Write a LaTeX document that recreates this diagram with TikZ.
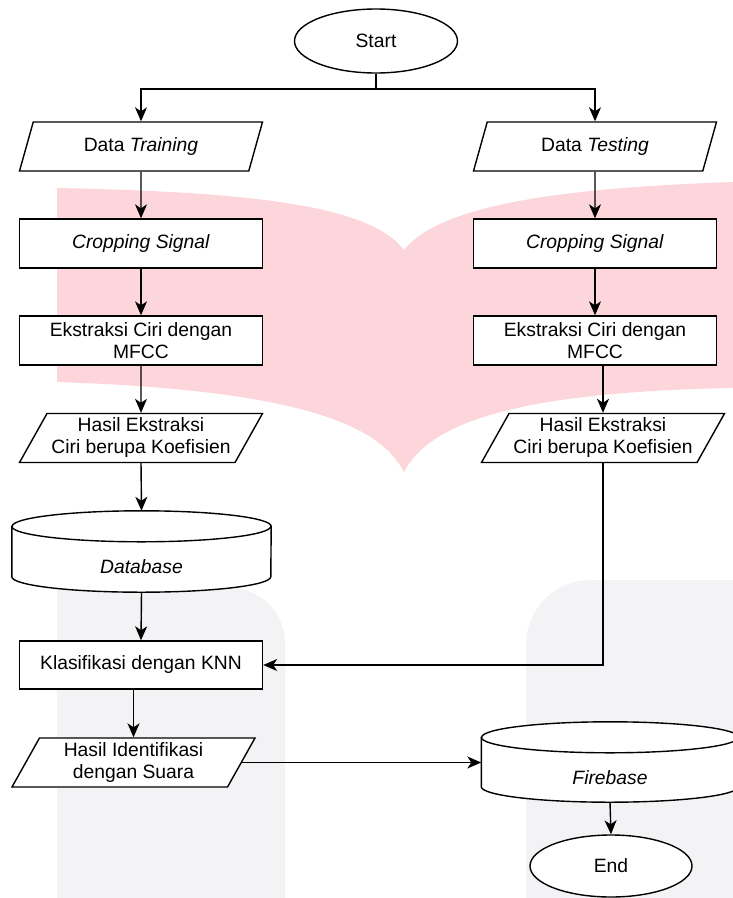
\documentclass[tikz,border=0pt]{standalone}
\usepackage{fontspec}
\setmainfont{Liberation Sans}
\usetikzlibrary{shapes.geometric,arrows.meta}

\definecolor{markpink}{RGB}{252,214,218}
\definecolor{markgrey}{RGB}{243,243,245}

\begin{document}
\begin{tikzpicture}[x=1pt, y=-1pt,
    flow/.style={draw, line width=1.4pt, fill=white, align=center,
      font=\fontsize{19.3pt}{22pt}\selectfont},
    proc/.style={flow, rectangle, minimum width=243pt, minimum height=49pt, inner sep=2pt},
    io/.style={flow, trapezium, trapezium left angle=58, trapezium right angle=122,
      trapezium stretches body, minimum width=243pt, minimum height=49pt, inner sep=2pt},
    term/.style={flow, ellipse, minimum width=163pt, minimum height=64pt, inner sep=0pt},
    store/.style={rectangle, minimum width=259pt, minimum height=81pt, inner sep=0pt},
    storetext/.style={font=\fontsize{19.3pt}{22pt}\selectfont\itshape},
    arr/.style={-{Stealth[length=14pt, width=12pt, inset=4pt]}, line width=1.4pt}]
  \useasboundingbox (0,0) rectangle (733,898);
  \fill[white] (0,0) rectangle (733,898);
  % Watermark
  \fill[markpink] (57,188) .. controls (250,192) and (370,205) .. (404,250)
    .. controls (440,205) and (560,188) .. (733,182) -- (733,388)
    .. controls (510,392) and (428,425) .. (404,472)
    .. controls (380,425) and (300,390) .. (57,382) -- cycle;
  \fill[markgrey] (57,898) -- (57,588) -- (230,588) arc[start angle=90, end angle=0, radius=55pt]
    -- (285,898) -- cycle;
  \fill[markgrey] (526,898) -- (526,645) arc[start angle=180, end angle=90, radius=65pt]
    -- (733,580) -- (733,898) -- cycle;
  % Start and inputs
  \node[term] (start) at (376,41) {Start};
  \node[io] (dtrain) at (141,146.5) {Data \textit{Training}};
  \node[io] (dtest) at (595,146.5) {Data \textit{Testing}};
  % Left column
  \node[proc] (cropL) at (141,243.5) {\textit{Cropping Signal}};
  \node[proc] (ekstL) at (141,340.5) {Ekstraksi Ciri dengan\\MFCC};
  \node[io] (hasilL) at (141,438) {Hasil Ekstraksi\\Ciri berupa Koefisien};
  \node[store] (db) at (141.5,551.5) {};
  \node[proc, minimum height=48pt] (knn) at (141,665) {Klasifikasi dengan KNN};
  \node[io] (ident) at (133.5,762.5) {Hasil Identifikasi\\dengan Suara};
  % Right column
  \node[proc] (cropR) at (595,243.5) {\textit{Cropping Signal}};
  \node[proc] (ekstR) at (595,340.5) {Ekstraksi Ciri dengan\\MFCC};
  \node[io] (hasilR) at (603,438) {Hasil Ekstraksi\\Ciri berupa Koefisien};
  \node[store, minimum width=257pt, minimum height=80pt] (fb) at (610,762) {};
  \node[term, minimum width=162pt, minimum height=62pt] (end) at (611,866) {End};
  % Cylinders
  \foreach \n/\rx in {db/129.5, fb/128.5}{
    \draw[line width=1.4pt, fill=white] ([yshift=-15.5pt]\n.north west)
      -- ([yshift=15.5pt]\n.south west)
      arc[start angle=180, end angle=360, x radius=\rx pt, y radius=15.5pt]
      -- ([yshift=-15.5pt]\n.north east)
      arc[start angle=0, end angle=180, x radius=\rx pt, y radius=15.5pt] -- cycle;
    \draw[line width=1.4pt] ([yshift=-15.5pt]\n.north west)
      arc[start angle=180, end angle=360, x radius=\rx pt, y radius=15.5pt];
  }
  \node[storetext] (dbtext) at ([yshift=-15.5pt]db.center) {Database};
  \node[storetext] (fbtext) at ([yshift=-15.5pt]fb.center) {Firebase};
  % Connectors
  \coordinate (split) at (376,89);
  \draw[line width=1.4pt] (start.south) -- (split);
  \draw[arr] (split) -| (dtrain.north);
  \draw[arr] (split) -| (dtest.north);
  \draw[arr] (dtrain.south) -- (cropL.north);
  \draw[arr] (cropL.south) -- (ekstL.north);
  \draw[arr] (ekstL.south) -- (hasilL.north);
  \draw[arr] (hasilL.south) -- (db.north);
  \draw[arr] (db.south) -- (knn.north);
  \draw[arr] (knn.south -| ident.north) -- (ident.north);
  \draw[arr] (dtest.south) -- (cropR.north);
  \draw[arr] (cropR.south) -- (ekstR.north);
  \draw[arr] (ekstR.south -| hasilR.north) -- (hasilR.north);
  \draw[arr] (hasilR.south) |- (knn.east);
  \draw[arr] (ident.east) -- (ident.east -| fb.west);
  \draw[arr] (fb.south) -- (end.north);
\end{tikzpicture}
\end{document}
